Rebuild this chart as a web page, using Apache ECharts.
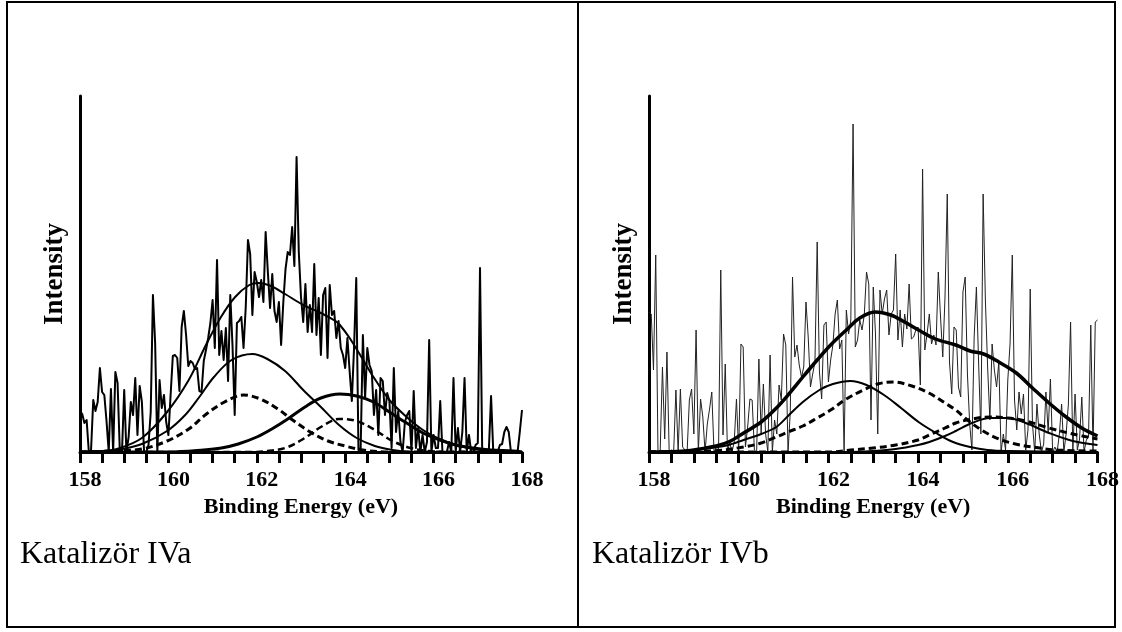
<!DOCTYPE html>
<html>
<head>
<meta charset="utf-8">
<script src="https://cdn.jsdelivr.net/npm/echarts@6/dist/echarts.min.js"></script>
<style>
html,body{margin:0;padding:0;background:#fff;}
#chart{width:1122px;height:632px;}
</style>
</head>
<body>
<div id="chart"></div>
<script>
// ---------- data (intensity in arbitrary units) ----------
const energyStart = 158;
const energyStep = 0.05;
const xTickLabels = ['158','160','162','164','166','168'];

// Katalizör IVa raw spectrum (158 .. 168 eV, 0.05 eV step)
const rawA = [
  41,38,29,32,0,2,52,41,50,84,
  60,57,31,0,63,0,80,69,2,0,
  62,0,15,50,37,74,17,66,50,0,
  0,7,40,157,109,0,72,44,57,30,
  17,57,96,97,94,61,125,141,117,86,
  91,89,83,84,61,60,91,102,114,129,
  152,104,192,97,121,92,124,71,157,107,
  37,129,131,135,104,145,212,198,137,180,
  170,155,172,150,220,180,144,178,141,130,
  150,107,150,183,200,197,225,186,295,200,
  155,130,168,120,147,120,188,117,154,97,
  157,164,94,167,137,141,114,131,104,97,
  84,114,81,51,104,174,2,4,117,54,
  104,87,81,37,62,17,74,71,37,59,
  51,4,84,20,41,10,0,30,37,41,
  0,61,4,24,0,17,0,10,112,0,
  17,4,4,51,0,0,0,10,0,74,
  0,24,0,20,74,0,17,0,0,7,
  9,184,0,0,0,2,56,0,0,0,
  7,8,20,25,20,0,0,0,0,20,
  42
];
// Katalizör IVa fitted curves [eV, intensity]
const envA = [[158,0],[158.5,1],[158.84,3],[159.4,14],[159.97,40],[160.46,72],[160.86,108],[161.19,135],[161.51,155],[161.83,167],[162.04,169],[162.32,166],[162.64,158],[163.05,147],[163.45,139],[163.78,131],[163.88,127],[164.1,114],[164.42,91],[164.64,75],[165.0,52],[165.39,35],[165.76,22],[166.14,13],[166.5,7],[166.9,3],[167.3,1],[168,0]];
const fitA1 = [[158,0],[158.5,1],[158.84,2],[159.4,8],[159.97,21],[160.38,37],[160.7,55],[161.03,75],[161.43,92],[161.9,98],[162.24,93],[162.64,81],[163.05,62],[163.45,45],[163.86,27],[164.26,14],[164.67,6],[165.07,2],[165.5,0],[168,0]];
const fitA2 = [[158,0],[158.8,1],[159.4,3],[159.97,11],[160.46,23],[160.86,38],[161.27,50],[161.7,57],[162.08,53],[162.48,43],[162.81,32],[163.21,20],[163.61,11],[164.0,6],[164.4,2],[165,0],[168,0]];
const fitA3 = [[158,0],[160,0],[160.8,2],[161.2,4],[161.58,8],[162.0,15],[162.34,23],[162.7,33],[163.09,45],[163.45,54],[163.88,58],[164.26,56],[164.64,50],[165.0,40],[165.39,29],[165.76,19],[166.14,12],[166.5,7],[166.9,4],[167.3,2],[167.8,1],[168,0]];
const fitA4 = [[158,0],[162,0],[162.24,1],[162.64,4],[163.05,13],[163.45,25],[163.86,33],[164.26,31],[164.67,22],[165.07,11],[165.48,4],[165.88,1],[166.3,0],[168,0]];

// Katalizör IVb raw spectrum (158 .. 168 eV, 0.05 eV step)
const rawB = [
  140,138,82,197,0,2,85,13,100,0,
  2,0,62,0,63,5,2,0,52,63,
  18,122,0,53,35,0,28,43,60,0,
  5,0,182,17,88,0,10,0,10,53,
  0,108,105,5,25,53,52,2,0,93,
  18,68,18,0,97,0,32,18,67,52,
  118,107,0,40,175,95,107,87,75,85,
  150,115,65,78,90,210,80,53,127,130,
  70,92,107,138,152,103,112,0,142,118,
  132,328,105,112,132,122,137,180,168,32,
  165,118,18,162,138,153,162,117,138,142,
  198,112,142,105,138,123,168,113,115,122,
  125,67,283,102,118,138,108,117,107,180,
  135,95,155,258,90,58,125,122,65,55,
  160,175,78,28,2,115,165,88,18,258,
  152,85,32,108,82,65,90,0,18,2,
  72,108,197,52,22,60,38,58,2,22,
  163,28,0,48,18,0,8,60,20,73,
  0,5,0,18,48,0,18,47,130,0,
  58,2,13,55,0,12,15,127,2,130,
  132
];
// Katalizör IVb fitted curves [eV, intensity]
const envB = [[158,0],[158.8,1],[159.38,5],[159.77,10],[160.11,19],[160.5,30],[160.84,44],[161.1,57],[161.43,75],[161.75,92],[162.05,107],[162.4,122],[162.7,134],[163.04,140],[163.39,137],[163.7,130],[164.01,122],[164.39,113],[164.84,107],[165.16,101],[165.46,98],[165.8,90],[166.19,79],[166.55,64],[166.92,49],[167.3,35],[167.65,24],[168,16]];
const fitB1 = [[158,0],[158.8,1],[159.38,4],[159.77,7],[160.11,12],[160.5,18],[160.84,25],[161.1,36],[161.43,50],[161.8,62],[162.1,68],[162.49,71],[162.85,67],[163.24,57],[163.62,44],[164.01,30],[164.4,19],[164.78,10],[165.16,5],[165.55,2],[166,1],[168,0]];
const fitB2 = [[158,0],[159.4,1],[160.11,5],[160.5,9],[160.84,15],[161.1,20],[161.43,26],[161.75,34],[162.05,42],[162.4,53],[162.78,62],[163.1,68],[163.44,70],[163.86,66],[164.24,59],[164.6,49],[164.84,42],[165.1,32],[165.45,21],[165.8,13],[166.17,8],[166.55,5],[167.09,2],[168,1]];
const fitB3 = [[158,0],[162.5,0],[163,1],[163.5,3],[164,7],[164.25,10],[164.6,16],[164.84,21],[165.2,29],[165.6,34],[166,34],[166.4,29],[166.92,19],[167.45,11],[168,7]];
const fitB4 = [[158,0],[162,0],[162.5,2],[163,4],[163.5,7],[164,12],[164.25,17],[164.6,24],[164.84,29],[165.2,33],[165.6,35],[166,34],[166.4,31],[166.92,24],[167.45,18],[168,13]];

const captions = ['Katalizör IVa', 'Katalizör IVb'];
const yName = 'Intensity';
const xName = 'Binding Energy (eV)';

// ---------- chart ----------
const serif = 'Liberation Serif';
function toPairs(arr){ return arr.map((v,i)=>[+(energyStart + i*energyStep).toFixed(2), v]); }

function xAxisDef(gi){
  return {
    gridIndex: gi, type: 'value', min: 158, max: 168, interval: 0.5,
    name: xName, nameLocation: 'middle', nameGap: 39,
    nameTextStyle: {fontFamily: serif, fontSize: 22, fontWeight: 'bold', color: '#000'},
    axisLine: {show: true, onZero: false, lineStyle: {color: '#000', width: 3}},
    axisTick: {show: true, inside: false, length: 11, lineStyle: {color: '#000', width: 3}},
    axisLabel: {
      margin: 17, fontFamily: serif, fontSize: 22, fontWeight: 'bold', color: '#000',
      padding: [0,0,0,10],
      formatter: function(v){
        const s = String(Math.round(v));
        return (Math.abs(v - Math.round(v)) < 1e-6 && xTickLabels.indexOf(s) >= 0) ? s : '';
      }
    },
    splitLine: {show: false}
  };
}
function yAxisDef(gi){
  return {
    gridIndex: gi, type: 'value', min: 0, max: 356,
    name: yName, nameLocation: 'middle', nameGap: 11, nameRotate: 90,
    nameTextStyle: {fontFamily: serif, fontSize: 27, fontWeight: 'bold', color: '#000'},
    axisLine: {show: true, lineStyle: {color: '#000', width: 3}},
    axisTick: {show: false}, axisLabel: {show: false}, splitLine: {show: false}
  };
}
function lineSeries(gi, data, width, dashed, smooth, color){
  return {
    type: 'line', xAxisIndex: gi, yAxisIndex: gi, data: data,
    showSymbol: false, symbol: 'none', smooth: smooth ? 0.35 : false,
    silent: true, animation: false, z: smooth ? 3 : 2,
    lineStyle: {color: color || '#000', width: width, type: dashed ? [7,4] : 'solid', cap: 'butt', join: 'round'}
  };
}

const chart = echarts.init(document.getElementById('chart'), null, {renderer: 'canvas'});
chart.setOption({
  backgroundColor: '#fff',
  animation: false,
  textStyle: {fontFamily: serif},
  title: [
    {text: captions[0], left: 20, top: 539, padding: 0, textStyle: {fontFamily: serif, fontSize: 32, fontWeight: 'normal', color: '#000'}},
    {text: captions[1], left: 592, top: 539, padding: 0, textStyle: {fontFamily: serif, fontSize: 32, fontWeight: 'normal', color: '#000'}}
  ],
  grid: [
    {left: 80, top: 96, width: 442, height: 356},
    {left: 649, top: 96, width: 454, height: 356}
  ],
  xAxis: [xAxisDef(0), xAxisDef(1)],
  yAxis: [yAxisDef(0), yAxisDef(1)],
  graphic: [
    {type: 'rect', shape: {x: 7, y: 2, width: 1108, height: 625}, style: {fill: 'none', stroke: '#000', lineWidth: 2}, silent: true},
    {type: 'line', shape: {x1: 578, y1: 2, x2: 578, y2: 627}, style: {stroke: '#000', lineWidth: 2}, silent: true}
  ],
  series: [
    lineSeries(0, toPairs(rawA), 2, false, false),
    lineSeries(0, envA, 2, false, true),
    lineSeries(0, fitA1, 2, false, true),
    lineSeries(0, fitA2, 3, true, true),
    lineSeries(0, fitA3, 3, false, true),
    lineSeries(0, fitA4, 2.5, true, true),
    lineSeries(1, toPairs(rawB), 1, false, false, '#222'),
    lineSeries(1, envB, 3.5, false, true),
    lineSeries(1, fitB1, 2, false, true),
    lineSeries(1, fitB2, 3, true, true),
    lineSeries(1, fitB3, 2, false, true),
    lineSeries(1, fitB4, 3, true, true)
  ]
});
</script>
</body>
</html>
